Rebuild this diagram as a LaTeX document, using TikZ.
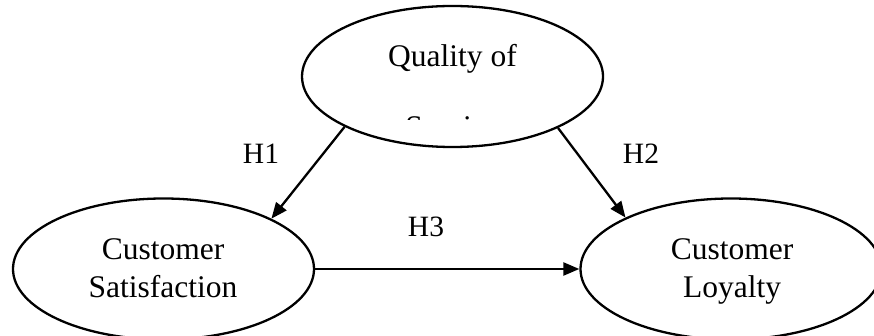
\documentclass[tikz,border=0pt]{standalone}
\usepackage{fontspec}
\setmainfont{Liberation Serif}
\usetikzlibrary{shapes.geometric,arrows.meta}
\begin{document}
\begin{tikzpicture}[x=1pt,y=-1pt,
  oval/.style={draw=black, line width=2.3pt, ellipse, inner sep=0pt, minimum width=301pt, minimum height=141pt},
  conn/.style={line width=2.3pt, -{Triangle[length=16pt,width=13pt]}},
  ovaltext/.style={font=\fontsize{31.5}{39}\selectfont, anchor=base, inner sep=0pt},
  hlabel/.style={font=\fontsize{29.5}{35}\selectfont, anchor=base, inner sep=0pt}]
\useasboundingbox (0,0) rectangle (874,336);
% ovals
\node[oval] (qos) at (452.5,76.5) {};
\node[oval] (sat) at (163.5,269) {};
\node[oval] (loy) at (731,269) {};
% texts
\node[ovaltext] (qostext) at (452.5,67) {Quality of};
\begin{scope}
  \clip (300,116.5) rectangle (600,119.5);
  \node[ovaltext] (qostext2) at (452.5,138) {Service};
\end{scope}
\node[ovaltext] (sat1) at (163,259) {Customer};
\node[ovaltext] (sat2) at (163,298) {Satisfaction};
\node[ovaltext] (loy1) at (732,259) {Customer};
\node[ovaltext] (loy2) at (732,298) {Loyalty};
% connectors
\draw[conn] (qos.205.6) -- (sat.25.6);
\draw[conn] (qos.334.2) -- (loy.154);
\draw[conn] (sat.east) -- (loy.west);
% labels
\node[hlabel] (h1) at (261,164) {H1};
\node[hlabel] (h2) at (641,164) {H2};
\node[hlabel] (h3) at (426,237) {H3};
\end{tikzpicture}
\end{document}
